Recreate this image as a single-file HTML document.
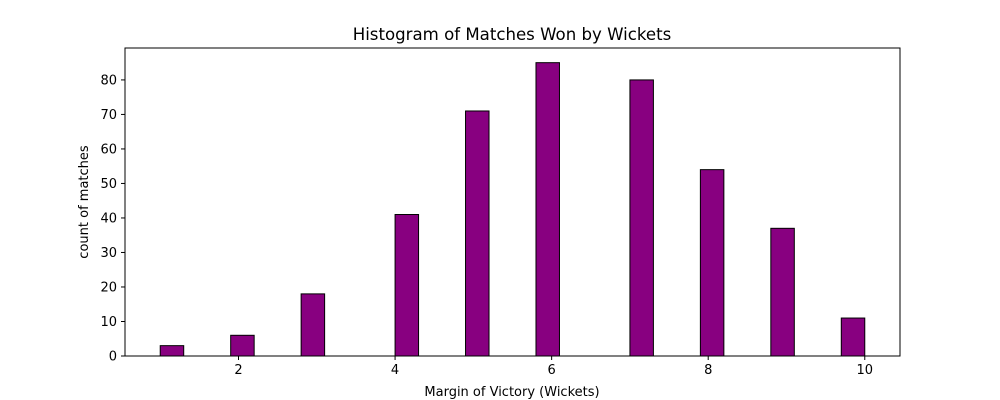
<!DOCTYPE html>
<html><head><meta charset="utf-8"><style>
body{margin:0;background:#fff;}
svg{display:block;font-family:"DejaVu Sans","Liberation Sans",sans-serif;}
</style></head><body>
<svg id="chart" width="1000" height="400" viewBox="0 0 1000 400">
<rect x="0" y="0" width="1000" height="400" fill="#fff"/>
<text x="512" y="40" font-size="16.6" text-anchor="middle" fill="#000">Histogram of Matches Won by Wickets</text>
<g id="bars"></g>
<g id="xticks"></g>
<g id="yticks"></g>
<rect x="125" y="48" width="775" height="308" fill="none" stroke="#000" stroke-width="1"/>
<text x="512" y="396" font-size="13" text-anchor="middle">Margin of Victory (Wickets)</text>
<text x="88" y="202" font-size="13" text-anchor="middle" transform="rotate(-90 88 202)">count of matches</text>
</svg>
<script>
const binStarts = [1.0, 1.9, 2.8, 4.0, 4.9, 5.8, 7.0, 7.9, 8.8, 9.7];
const counts = [3, 6, 18, 41, 71, 85, 80, 54, 37, 11];
const binWidth = 0.3;
const xTicks = [2, 4, 6, 8, 10];
const yTicks = [0, 10, 20, 30, 40, 50, 60, 70, 80];
const NS = "http://www.w3.org/2000/svg";
const xMin = 0.55, xMax = 10.45, yMax = 89.25;
const L = 125, R = 900, T = 48, B = 356;
const xs = v => L + (v - xMin) / (xMax - xMin) * (R - L);
const ys = v => B - v / yMax * (B - T);
const bars = document.getElementById('bars');
binStarts.forEach((s, i) => {
  const r = document.createElementNS(NS, 'rect');
  const x0 = xs(s), x1 = xs(s + binWidth), y = ys(counts[i]);
  r.setAttribute('x', x0); r.setAttribute('width', x1 - x0);
  r.setAttribute('y', y); r.setAttribute('height', B - y);
  r.setAttribute('fill', '#880080'); r.setAttribute('stroke', '#000'); r.setAttribute('stroke-width', '1');
  
  
  bars.appendChild(r);
});
const xg = document.getElementById('xticks');
xTicks.forEach(t => {
  const l = document.createElementNS(NS, 'line');
  l.setAttribute('x1', xs(t)); l.setAttribute('x2', xs(t)); l.setAttribute('y1', B); l.setAttribute('y2', B + 4);
  l.setAttribute('stroke', '#000');
  
  
  xg.appendChild(l);
  const tx = document.createElementNS(NS, 'text');
  tx.setAttribute('x', xs(t)); tx.setAttribute('y', B + 18); tx.setAttribute('font-size', '13'); tx.setAttribute('text-anchor', 'middle');
  tx.textContent = t;
  
  
  xg.appendChild(tx);
});
const yg = document.getElementById('yticks');
yTicks.forEach(t => {
  const l = document.createElementNS(NS, 'line');
  l.setAttribute('x1', L - 4); l.setAttribute('x2', L); l.setAttribute('y1', ys(t)); l.setAttribute('y2', ys(t));
  l.setAttribute('stroke', '#000');
  
  
  yg.appendChild(l);
  const tx = document.createElementNS(NS, 'text');
  tx.setAttribute('x', L - 8); tx.setAttribute('y', ys(t) + 4.5); tx.setAttribute('font-size', '13'); tx.setAttribute('text-anchor', 'end');
  tx.textContent = t;
  
  
  yg.appendChild(tx);
});
</script>
</body></html>
